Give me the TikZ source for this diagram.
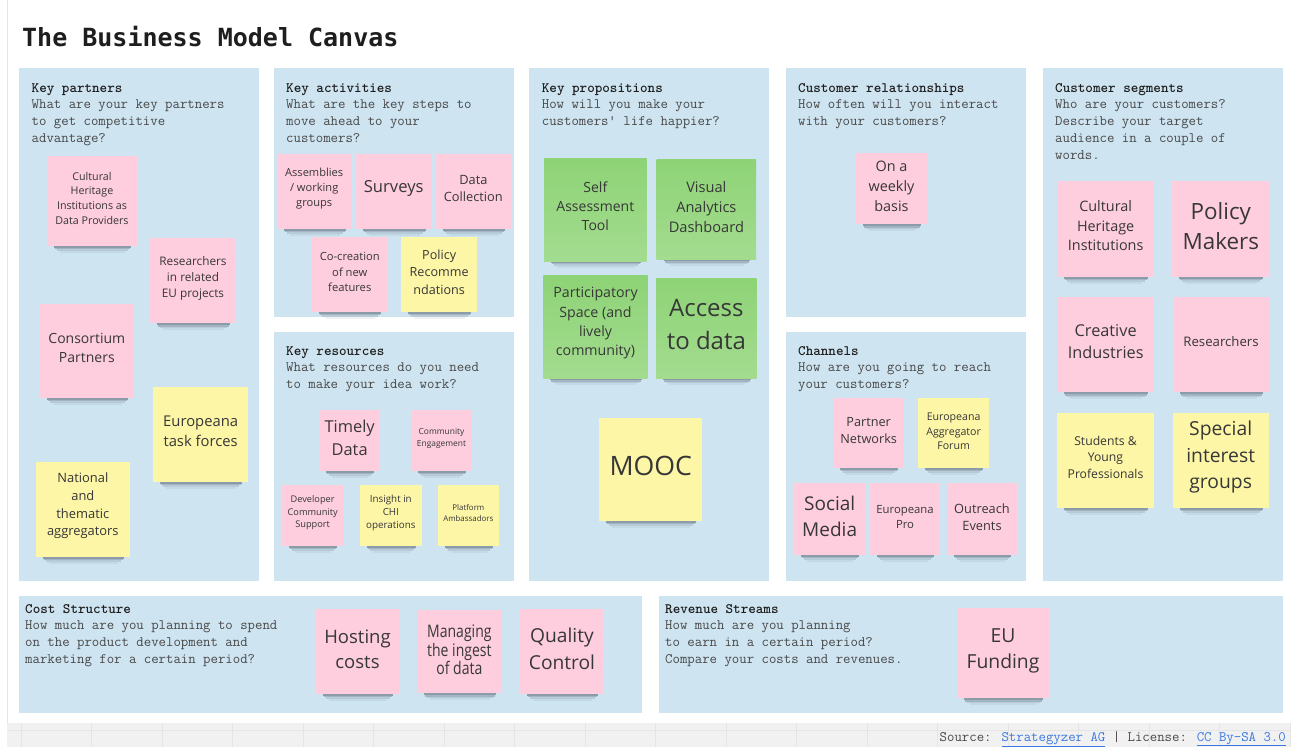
\documentclass[tikz,border=0pt]{standalone}
\usepackage{fontspec}
\setmainfont{Open Sans}
\newfontfamily\titlefont{DejaVu Sans Mono}
\definecolor{panelblue}{RGB}{206,228,241}
\definecolor{notepink}{RGB}{254,205,222}
\definecolor{noteyellow}{RGB}{253,246,167}
\definecolor{notegreen}{RGB}{142,211,118}
\definecolor{notegreenb}{RGB}{163,220,143}
\definecolor{hdrtext}{RGB}{30,30,30}
\definecolor{qtext}{RGB}{72,72,72}
\definecolor{notetextc}{RGB}{55,55,55}
\definecolor{linkblue}{RGB}{60,120,225}
\definecolor{bandgray}{RGB}{241,241,241}
\definecolor{gridline}{RGB}{229,229,229}
\definecolor{shadowc}{RGB}{40,50,60}
\newcommand\fs[1]{\fontsize{#1}{\fpeval{1.36*#1}}\selectfont}
\newcommand\hdr[1]{\hbox{\bfseries\color{hdrtext}#1}}
\newcommand\qln[1]{\hbox{\color{qtext}#1}}
\newcommand\weblink[1]{{\color{linkblue}\underline{#1}}}
\tikzset{
 panelbox/.style={rectangle, fill=panelblue, draw=none, inner sep=0pt, outer sep=0pt},
 notebox/.style={rectangle, draw=none, inner sep=0pt, outer sep=0pt},
 pinknote/.style={fill=notepink},
 yellownote/.style={fill=noteyellow},
 greennote/.style={top color=notegreen, bottom color=notegreenb},
 notetext/.style={align=center, inner sep=0pt, text=notetextc},
 paneltext/.style={anchor=base west, inner sep=0pt, font=\ttfamily\fontsize{14.4}{16.8}\selectfont},
 shadowA/.style={fill=shadowc, opacity=0.40},
 shadowB/.style={fill=shadowc, opacity=0.26},
 shadowC/.style={fill=shadowc, opacity=0.14},
 shadowD/.style={fill=shadowc, opacity=0.06},
}
\newcommand\panel[5]{\node[panelbox, minimum width={#4-#2}, minimum height={#5-#3}] (#1) at ({(#2+#4)/2},{(#3+#5)/2}) {};}
\newcommand\note[9]{%
 \fill[shadowA] ({#3+7},{#6}) rectangle ({#5-6},{#6+1.8});
 \fill[shadowB] ({#3+8},{#6+1.8}) rectangle ({#5-7},{#6+3.4});
 \fill[shadowC] ({#3+10},{#6+3.4}) rectangle ({#5-9},{#6+5});
 \fill[shadowD] ({#3+13},{#6+5}) rectangle ({#5-12},{#6+7});
 \node[notebox,#2,minimum width={#5-#3},minimum height={#6-#4}] (#1) at ({(#3+#5)/2},{(#4+#6)/2}) {};
 \node[notetext,#7] (#1-t) at ({(#3+#5)/2},#8) {#9};
}
\begin{document}
\begin{tikzpicture}[x=1pt,y=-1pt]
\useasboundingbox[fill=white] (0,0) rectangle (1291,747);
% page frame and bottom band
\draw[gridline] (7,0) -- (7,723);
\fill[bandgray] (7,723) rectangle (1291,747);
\draw[gridline] (7,730) -- (1291,730);
\foreach \i in {0,...,18} \draw[gridline] ({21+70.5*\i},723) -- ({21+70.5*\i},747);
% title
\node[anchor=base west, inner sep=0pt, text=hdrtext, font=\titlefont\bfseries\fontsize{25}{30}\selectfont] (title) at (22,46) {The Business Model Canvas};
% panels
\panel{kp}{19}{68}{259}{581}
\panel{ka}{274}{68}{514}{317}
\panel{kr}{274}{332}{514}{581}
\panel{vp}{529}{68}{769}{581}
\panel{cr}{786}{68}{1026}{317}
\panel{ch}{786}{332}{1026}{581}
\panel{cs}{1043}{68}{1283}{581}
\panel{co}{19}{596}{642}{713}
\panel{rs}{659}{596}{1283}{713}
% panel texts
\node[paneltext] (kp-h) at (31.5,92) {\vtop{\hdr{Key partners}\qln{What are your key partners}\qln{to get competitive}\qln{advantage?}}};
\node[paneltext] (ka-h) at (286,92) {\vtop{\hdr{Key activities}\qln{What are the key steps to}\qln{move ahead to your}\qln{customers?}}};
\node[paneltext] (kr-h) at (286,355) {\vtop{\hdr{Key resources}\qln{What resources do you need}\qln{to make your idea work?}}};
\node[paneltext] (vp-h) at (541.7,92) {\vtop{\hdr{Key propositions}\qln{How will you make your}\qln{customers' life happier?}}};
\node[paneltext] (cr-h) at (798,92) {\vtop{\hdr{Customer relationships}\qln{How often will you interact}\qln{with your customers?}}};
\node[paneltext] (ch-h) at (798,355) {\vtop{\hdr{Channels}\qln{How are you going to reach}\qln{your customers?}}};
\node[paneltext] (cs-h) at (1055,92) {\vtop{\hdr{Customer segments}\qln{Who are your customers?}\qln{Describe your target}\qln{audience in a couple of}\qln{words.}}};
\node[paneltext] (co-h) at (25,613) {\vtop{\hdr{Cost Structure}\qln{How much are you planning to spend}\qln{on the product development and}\qln{marketing for a certain period?}}};
\node[paneltext] (rs-h) at (665,613) {\vtop{\hdr{Revenue Streams}\qln{How much are you planning}\qln{to earn in a certain period?}\qln{Compare your costs and revenues.}}};
% key partners
\note{kp1}{pinknote}{47.3}{155.7}{136.7}{245.7}{font=\fs{10.7}}{198.2}{Cultural\\Heritage\\Institutions as\\Data Providers}
\note{kp2}{pinknote}{150}{237.7}{236}{323.3}{font=\fs{11.8}}{278.2}{Researchers\\in related\\EU projects}
\note{kp3}{pinknote}{40}{304}{133.7}{397.7}{font=\fs{14}}{348.3}{Consortium\\Partners}
\note{kp4}{yellownote}{153}{387.3}{248.3}{481.7}{font=\fs{14.8}}{431.7}{Europeana\\task forces}
\note{kp5}{yellownote}{35.7}{461.7}{130}{556.7}{font=\fs{12.9}}{505.9}{National\\and\\thematic\\aggregators}
% key activities
\note{ka1}{pinknote}{276.7}{153.7}{351.7}{228.7}{font=\fs{11.1}}{188.9}{Assemblies\\/ working\\groups}
\note{ka2}{pinknote}{355.7}{153.7}{431.7}{228.7}{font=\fs{16.6}}{188.7}{Surveys}
\note{ka3}{pinknote}{436}{153.7}{510.7}{228.7}{font=\fs{12.8}}{188.7}{Data\\Collection}
\note{ka4}{pinknote}{312.3}{237.3}{387.3}{311.7}{font=\fs{11.2}}{272.1}{Co-creation\\of new\\features}
\note{ka5}{yellownote}{401}{237.3}{477.3}{311.7}{font=\fs{12.6}}{272.2}{Policy\\Recomme\\ndations}
% key resources
\note{kr1}{pinknote}{319.3}{410}{380}{471}{font=\fs{16.4}}{437.8}{Timely\\Data}
\note{kr2}{pinknote}{410.7}{410}{472.3}{471}{font=\fs{8.4}}{438.5}{Community\\Engagement}
\note{kr3}{pinknote}{282}{485}{343.3}{545.7}{font=\fs{9.2}}{512.9}{Developer\\Community\\Support}
\note{kr4}{yellownote}{360}{485}{421.7}{545.7}{font=\fs{9.8}}{512.9}{Insight in\\CHI\\operations}
\note{kr5}{yellownote}{437.7}{485}{499}{545.7}{font=\fs{7.9}}{513}{Platform\\Ambassadors}
% key propositions
\note{vp1}{greennote}{544}{158.3}{646.7}{261}{font=\fs{14}}{206.1}{Self\\Assessment\\Tool}
\note{vp2}{greennote}{656.7}{159.3}{756}{259.3}{font=\fs{14.6}}{206.9}{Visual\\Analytics\\Dashboard}
\note{vp3}{greennote}{543.3}{275}{647.7}{378.3}{font=\fs{14.2}}{323.2}{Participatory\\Space (and\\lively\\community)}
\note{vp4}{greennote}{656}{278.3}{756.7}{378.3}{font=\fs{24}}{324.7}{Access\\to data}
\note{vp5}{yellownote}{599.3}{418.3}{702.3}{521}{font=\fs{26.7}}{465.7}{MOOC}
% customer relationships
\note{cr1}{pinknote}{856}{153.3}{927}{224.3}{font=\fs{14.4}}{186.4}{On a\\weekly\\basis}
% channels
\note{ch1}{pinknote}{833.3}{397.7}{904}{467.7}{font=\fs{12.7}}{430.5}{Partner\\Networks}
\note{ch2}{yellownote}{918.3}{397.7}{989}{467.7}{font=\fs{10.6}}{431.5}{Europeana\\Aggregator\\Forum}
\note{ch3}{pinknote}{794.3}{483.3}{865}{555}{font=\fs{19}}{516}{Social\\Media}
\note{ch4}{pinknote}{870}{483.3}{940}{555}{font=\fs{11.3}}{516.8}{Europeana\\Pro}
\note{ch5}{pinknote}{946.7}{483.3}{1017.3}{555}{font=\fs{12.8}}{517}{Outreach\\Events}
% customer segments
\note{cs1}{pinknote}{1057.3}{181}{1154}{276.7}{font=\fs{14.4}}{226}{Cultural\\Heritage\\Institutions}
\note{cs2}{pinknote}{1172.3}{181}{1269.3}{276.7}{font=\fs{22.4}}{225.9}{Policy\\Makers}
\note{cs3}{pinknote}{1057.3}{297.3}{1154}{392.3}{font=\fs{16.3}}{341.5}{Creative\\Industries}
\note{cs4}{pinknote}{1173.3}{297.3}{1268.7}{392.3}{font=\fs{13.2}}{341.7}{Researchers}
\note{cs5}{yellownote}{1056.7}{412.7}{1154.3}{507.7}{font=\fs{12.2}}{457.3}{Students \&\\Young\\Professionals}
\note{cs6}{yellownote}{1172.7}{412.7}{1268.7}{507.7}{font=\fs{19.3}}{457}{Special\\interest\\groups}
% cost structure
\note{co1}{pinknote}{316}{609.3}{399}{694}{font=\fs{18.5}}{649}{Hosting\\costs}
\note{co2}{pinknote}{417}{610}{501.7}{693.3}{font=\fontsize{17.3}{18.6}\selectfont, xscale=0.81, transform shape}{649.8}{Managing\\the ingest\\of data}
\note{co3}{pinknote}{520}{609.3}{604}{694}{font=\fs{19.2}}{648.8}{Quality\\Control}
% revenue streams
\note{rs1}{pinknote}{957.3}{608.3}{1048.7}{698.3}{font=\fs{19.3}}{650.8}{EU\\Funding}
% footer
\node[anchor=base east, inner sep=0pt, text=qtext, font=\ttfamily\fontsize{14.4}{16}\selectfont] (src) at (1286,741) {Source: \weblink{Strategyzer AG} | License: \weblink{CC By-SA 3.0}};
\end{tikzpicture}
\end{document}
